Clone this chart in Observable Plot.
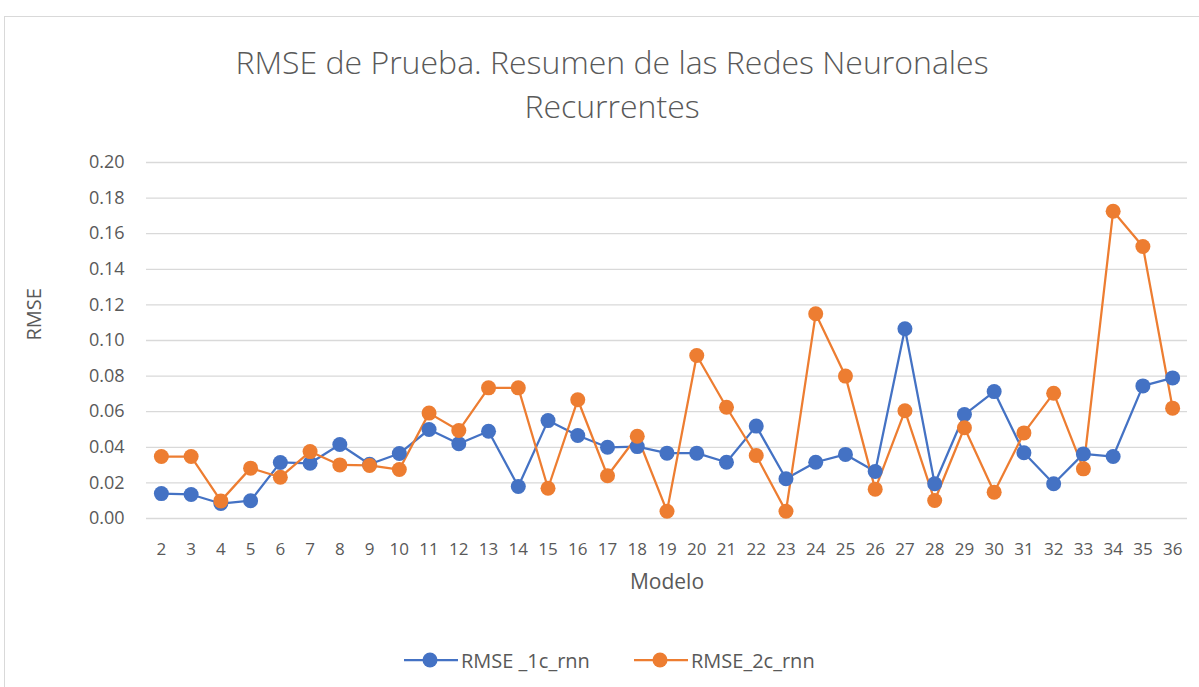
<!DOCTYPE html>
<html>
<head>
<meta charset="utf-8">
<script src="https://cdn.jsdelivr.net/npm/d3@7"></script>
<script src="https://cdn.jsdelivr.net/npm/@observablehq/plot@0.6"></script>
<style>
  html, body { margin: 0; padding: 0; background: #fff; width: 1199px; height: 687px; overflow: hidden; }
  body { position: relative; font-family: "Open Sans", sans-serif; color: #595959; }
  #frame { position: absolute; left: 4px; top: 16px; width: 1300px; height: 800px; border: 1px solid #d9d9d9; box-sizing: border-box; }
  #title { position: absolute; left: 0; top: 40px; width: 1224px; text-align: center; font-size: 32px; line-height: 44px; color: #595959; font-weight: 300; }
  #chart { position: absolute; left: 0; top: 150px; }
  #legend { position: absolute; left: 0; top: 646px; width: 1199px; height: 28px; }
</style>
</head>
<body>
<div id="frame"></div>
<div id="title">RMSE de Prueba. Resumen de las Redes Neuronales<br>Recurrentes</div>
<div id="chart"></div>
<div id="legend"></div>
<script>
const models = [2,3,4,5,6,7,8,9,10,11,12,13,14,15,16,17,18,19,20,21,22,23,24,25,26,27,28,29,30,31,32,33,34,35,36];
const rmse1c = [0.014,0.0135,0.0084,0.010,0.0315,0.031,0.0416,0.0305,0.0365,0.050,0.042,0.049,0.018,0.055,0.0466,0.040,0.0404,0.0367,0.0367,0.0316,0.0519,0.0223,0.0316,0.036,0.0264,0.1066,0.0195,0.0584,0.0713,0.0369,0.0195,0.0363,0.0348,0.0745,0.079];
const rmse2c = [0.0348,0.0348,0.0099,0.0283,0.0232,0.0376,0.0301,0.0298,0.0275,0.0592,0.0494,0.0734,0.0734,0.017,0.0667,0.024,0.0462,0.0041,0.0916,0.0625,0.0354,0.0041,0.115,0.080,0.0165,0.0605,0.0101,0.051,0.0148,0.0481,0.0704,0.0279,0.1726,0.1528,0.062];
const seriesNames = ["RMSE _1c_rnn", "RMSE_2c_rnn"];
const seriesColors = ["#4472C4", "#ED7D31"];
const yTicks = [0,0.02,0.04,0.06,0.08,0.10,0.12,0.14,0.16,0.18,0.20];

const rows = [];
models.forEach((m, i) => {
  rows.push({model: m, value: rmse1c[i], series: seriesNames[0]});
  rows.push({model: m, value: rmse2c[i], series: seriesNames[1]});
});

const chart = Plot.plot({
  width: 1199,
  height: 460,
  marginLeft: 146,
  marginRight: 12,
  marginTop: 12,
  marginBottom: 92,
  style: {fontFamily: "Open Sans, sans-serif", fontSize: "18px", color: "#595959", background: "transparent"},
  x: {type: "point", domain: models, padding: 0.5, round: false},
  y: {domain: [0, 0.2]},
  color: {domain: seriesNames, range: seriesColors},
  marks: [
    Plot.gridY(yTicks, {stroke: "#d9d9d9", strokeOpacity: 1, strokeWidth: 1.3}),
    Plot.axisY(yTicks, {tickSize: 0, tickPadding: 22, tickFormat: d3.format(".2f"), label: null, fill: "#595959", fontSize: 18}),
    Plot.axisX({tickSize: 0, tickPadding: 24, label: null, fill: "#595959", fontSize: 17}),
    Plot.text(["Modelo"], {frameAnchor: "bottom", dy: 70, fontSize: 21, fill: "#595959"}),
    Plot.text(["RMSE"], {frameAnchor: "left", dx: -112, rotate: -90, fontSize: 20, fill: "#595959"}),
    Plot.line(rows, {x: "model", y: "value", z: "series", stroke: "series", strokeWidth: 2.25}),
    Plot.dot(rows, {x: "model", y: "value", fill: "series", r: 7.5, stroke: "none"})
  ]
});
document.getElementById("chart").appendChild(chart);

// Legend
const legendItems = [
  {name: seriesNames[0], color: seriesColors[0], x0: 404},
  {name: seriesNames[1], color: seriesColors[1], x0: 634}
];
const ns = "http://www.w3.org/2000/svg";
const lsvg = document.createElementNS(ns, "svg");
lsvg.setAttribute("width", 1199);
lsvg.setAttribute("height", 28);
legendItems.forEach(it => {
  const line = document.createElementNS(ns, "line");
  line.setAttribute("x1", it.x0); line.setAttribute("x2", it.x0 + 54);
  line.setAttribute("y1", 14); line.setAttribute("y2", 14);
  line.setAttribute("stroke", it.color); line.setAttribute("stroke-width", 2.25);
  lsvg.appendChild(line);
  const c = document.createElementNS(ns, "circle");
  c.setAttribute("cx", it.x0 + 26); c.setAttribute("cy", 14); c.setAttribute("r", 7.5);
  c.setAttribute("fill", it.color);
  lsvg.appendChild(c);
  const t = document.createElementNS(ns, "text");
  t.setAttribute("x", it.x0 + 57); t.setAttribute("y", 14);
  t.setAttribute("dominant-baseline", "central");
  t.setAttribute("font-family", "Open Sans, sans-serif");
  t.setAttribute("font-size", 20);
  t.setAttribute("fill", "#595959");
  t.textContent = it.name;
  lsvg.appendChild(t);
});
document.getElementById("legend").appendChild(lsvg);
</script>
</body>
</html>
